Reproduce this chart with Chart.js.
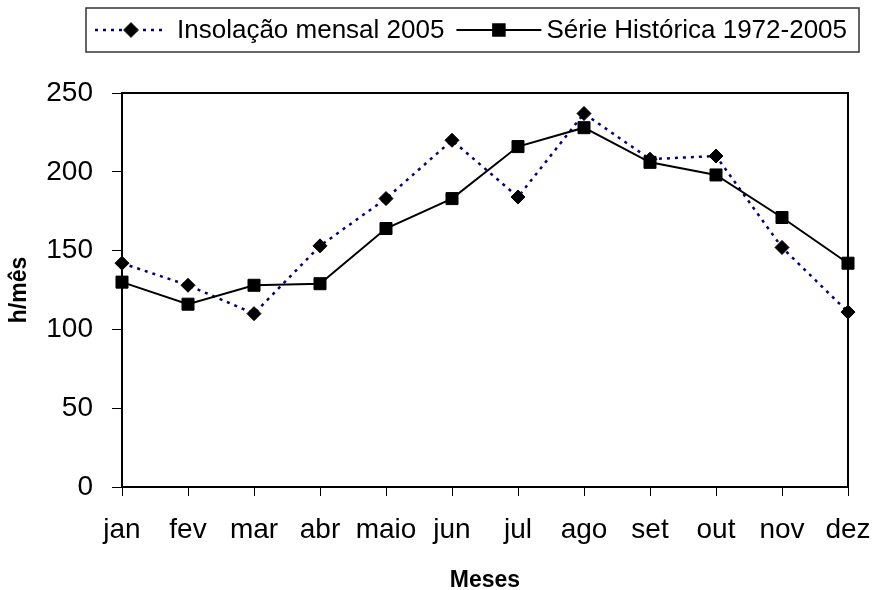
<!DOCTYPE html>
<html>
<head>
<meta charset="utf-8">
<script src="https://cdn.jsdelivr.net/npm/chart.js@4/dist/chart.umd.min.js"></script>
<style>
  body { margin: 0; background: #fff; }
  #wrap { width: 882px; height: 590px; position: relative; }
</style>
</head>
<body>
<div id="wrap"><canvas id="graphId"></canvas></div>
<script>
var meses = ['jan', 'fev', 'mar', 'abr', 'maio', 'jun', 'jul', 'ago', 'set', 'out', 'nov', 'dez'];
var insolacao2005 = [142, 128, 110, 153, 183, 220, 184, 237, 208, 210, 152, 111];
var serieHistorica = [130, 116, 128, 129, 164, 183, 216, 228, 206, 198, 171, 142];
var yTicks = [0, 50, 100, 150, 200, 250];

var fontFamily = '"Liberation Sans", Arial, sans-serif';

// frame around the plot (top and right side) and the boxed legend
var framePlugin = {
    id: 'frame',
    afterDraw: function(chart) {
        var ctx = chart.ctx;
        var a = chart.chartArea;
        ctx.save();
        ctx.strokeStyle = '#000';
        ctx.lineWidth = 2;
        ctx.beginPath();
        ctx.moveTo(a.left, a.top);
        ctx.lineTo(a.right, a.top);
        ctx.lineTo(a.right, a.bottom);
        ctx.stroke();

        // legend
        ctx.lineWidth = 1.5;
        ctx.strokeStyle = '#333';
        ctx.strokeRect(86, 8, 773, 44);
        ctx.font = '26px ' + fontFamily;
        ctx.textBaseline = 'middle';
        ctx.fillStyle = '#000';
        var x = 95, y = 30;
        chart.data.datasets.forEach(function(ds) {
            var lineW = ds.legendLine;
            ctx.save();
            ctx.strokeStyle = ds.borderColor;
            ctx.lineWidth = ds.borderWidth;
            ctx.setLineDash(ds.borderDash || []);
            ctx.beginPath();
            ctx.moveTo(x, y);
            ctx.lineTo(x + lineW, y);
            ctx.stroke();
            ctx.restore();
            Chart.helpers.drawPoint(ctx, {
                pointStyle: ds.pointStyle,
                radius: ds.pointRadius,
                borderWidth: 1
            }, x + lineW / 2, y);
            ctx.fillStyle = '#000';
            ctx.strokeStyle = '#000';
            ctx.fill();
            x += lineW + ds.legendGap;
            ctx.fillText(ds.label, x, y + 1);
            x += ctx.measureText(ds.label).width + 12;
        });
        ctx.restore();
    }
};

var ctx = document.getElementById('graphId').getContext('2d');
var myChart = new Chart(ctx, {
    type: 'line',
    data: {
        labels: meses,
        datasets: [{
            label: 'Insolação mensal 2005',
            data: insolacao2005,
            borderColor: '#000080',
            borderWidth: 2.5,
            borderDash: [3, 5],
            pointStyle: 'rectRot',
            pointRadius: 7,
            pointBackgroundColor: '#000',
            pointBorderColor: '#000',
            pointBorderWidth: 1,
            legendLine: 72,
            legendGap: 10,
            tension: 0,
            order: 1
        }, {
            label: 'Série Histórica 1972-2005',
            data: serieHistorica,
            borderColor: '#000',
            borderWidth: 2,
            pointStyle: 'rect',
            pointRadius: 8.5,
            pointBackgroundColor: '#000',
            pointBorderColor: '#000',
            pointBorderWidth: 1,
            legendLine: 85,
            legendGap: 5,
            tension: 0,
            order: 0
        }]
    },
    options: {
        responsive: true,
        maintainAspectRatio: false,
        animation: false,
        layout: { padding: { top: 93, right: 34, left: 0, bottom: 0 } },
        plugins: {
            legend: { display: false },
            tooltip: { enabled: false }
        },
        scales: {
            x: {
                offset: false,
                afterFit: function(scale) {
                    scale.height = 103;
                    scale.paddingLeft = 0;
                    scale.paddingRight = 0;
                },
                grid: {
                    drawOnChartArea: false,
                    drawTicks: true,
                    tickLength: 9,
                    tickColor: '#000',
                    tickWidth: 1
                },
                border: { color: '#000', width: 2 },
                ticks: {
                    color: '#000',
                    padding: 17,
                    maxRotation: 0,
                    autoSkip: false,
                    font: { family: fontFamily, size: 28 }
                },
                title: {
                    display: true,
                    text: 'Meses',
                    color: '#000',
                    padding: 0,
                    font: { family: fontFamily, size: 23, weight: 'bold', lineHeight: 0.85 }
                }
            },
            y: {
                min: 0,
                max: 250,
                afterFit: function(scale) { scale.width = 122; },
                afterBuildTicks: function(scale) {
                    scale.ticks = yTicks.map(function(v) { return { value: v }; });
                },
                grid: {
                    drawOnChartArea: false,
                    drawTicks: true,
                    tickLength: 10,
                    tickColor: '#000',
                    tickWidth: 1
                },
                border: { color: '#000', width: 2 },
                ticks: {
                    color: '#000',
                    padding: 19,
                    font: { family: fontFamily, size: 28 }
                },
                title: {
                    display: true,
                    text: 'h/mês',
                    color: '#000',
                    padding: { top: 8, bottom: 0 },
                    font: { family: fontFamily, size: 23, weight: 'bold', lineHeight: 1 }
                }
            }
        }
    },
    plugins: [framePlugin]
});
</script>
</body>
</html>
